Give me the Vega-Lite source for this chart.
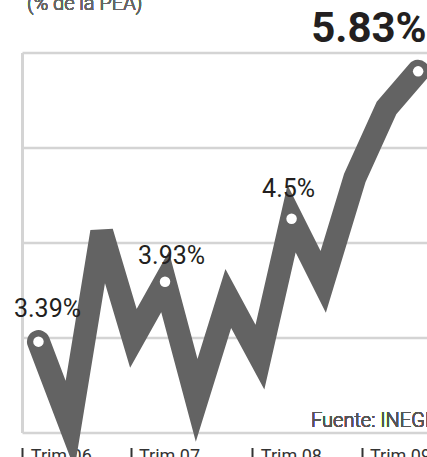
{
  "$schema": "https://vega.github.io/schema/vega-lite/v6.json",
  "autosize": {"type": "none"},
  "padding": {"left": 22, "top": 52.5, "right": 0, "bottom": 24.5},
  "width": 405,
  "height": 380,
  "background": "white",
  "config": {"view": {"stroke": null}},
  "data": {"values": [
    {"i": 0, "v": 3.39, "label": "3.39%"},
    {"i": 1, "v": 2.64},
    {"i": 2, "v": 4.38},
    {"i": 3, "v": 3.42},
    {"i": 4, "v": 3.93, "label": "3.93%"},
    {"i": 5, "v": 2.86},
    {"i": 6, "v": 3.78},
    {"i": 7, "v": 3.25},
    {"i": 8, "v": 4.5, "label": "4.5%"},
    {"i": 9, "v": 3.93},
    {"i": 10, "v": 4.87},
    {"i": 11, "v": 5.5},
    {"i": 12, "v": 5.83, "label": "5.83%"}
  ]},
  "encoding": {
    "x": {"field": "i", "type": "quantitative", "scale": {"domain": [-0.52, 12.28], "nice": false, "zero": false},
      "axis": {"title": null, "domain": false, "grid": false, "values": [-0.51, 2.91, 6.76, 10.21],
        "labelExpr": "datum.value < 0 ? 'Trim 06' : datum.value < 4 ? 'Trim 07' : datum.value < 8 ? 'Trim 08' : 'Trim 09'",
        "offset": 15, "tickSize": 12, "tickWidth": 2, "tickColor": "#333333",
        "labelAlign": "left", "labelOffset": 8, "labelBaseline": "alphabetic", "labelPadding": 1.5,
        "labelFont": "Roboto", "labelFontSize": 18, "labelColor": "#333333", "labelOverlap": false, "labelFlush": false, "labelBound": false}},
    "y": {"field": "v", "type": "quantitative", "scale": {"domain": [2.57, 6.0], "nice": false, "zero": false},
      "axis": {"title": null, "labels": false, "ticks": false, "values": [2.57, 3.4275, 4.285, 5.1425, 6.0],
        "domain": true, "domainColor": "#d4d4d4", "domainWidth": 3,
        "grid": true, "gridColor": "#d4d4d4", "gridWidth": 2.5}}
  },
  "layer": [
    {"mark": {"type": "line", "color": "#636363", "strokeWidth": 23, "strokeCap": "round", "strokeJoin": "miter", "strokeMiterLimit": 4}},
    {"transform": [{"filter": "datum.label != null"}],
     "mark": {"type": "point", "filled": true, "color": "white", "opacity": 1, "size": 110}},
    {"transform": [{"filter": "datum.i == 0"}],
     "mark": {"type": "text", "align": "left", "baseline": "alphabetic", "dx": -24.5, "dy": -24.5, "font": "Roboto", "fontSize": 25, "color": "#231f20"},
     "encoding": {"text": {"field": "label"}}},
    {"transform": [{"filter": "datum.i == 4"}],
     "mark": {"type": "text", "align": "left", "baseline": "alphabetic", "dx": -27, "dy": -18, "font": "Roboto", "fontSize": 25, "color": "#231f20"},
     "encoding": {"text": {"field": "label"}}},
    {"transform": [{"filter": "datum.i == 8"}],
     "mark": {"type": "text", "align": "left", "baseline": "alphabetic", "dx": -29.5, "dy": -22, "font": "Roboto", "fontSize": 25, "color": "#231f20"},
     "encoding": {"text": {"field": "label"}}},
    {"transform": [{"filter": "datum.i == 12"}],
     "mark": {"type": "text", "align": "left", "baseline": "alphabetic", "dx": -107, "dy": -29, "font": "Roboto", "fontWeight": "bold", "fontSize": 42, "color": "#231f20"},
     "encoding": {"text": {"field": "label"}}},
    {"mark": {"type": "text", "align": "right", "baseline": "alphabetic", "dy": -6, "font": "Roboto", "fontWeight": 300, "fontSize": 20, "color": "#555555"},
     "encoding": {"x": {"datum": 12.38, "type": "quantitative"}, "y": {"datum": 2.57, "type": "quantitative"}, "text": {"value": "Fuente: INEGI"}}},
    {"mark": {"type": "text", "align": "left", "baseline": "alphabetic", "font": "Roboto", "fontWeight": 300, "fontSize": 20, "color": "#666666"},
     "encoding": {"x": {"datum": -0.362, "type": "quantitative"}, "y": {"datum": 6.388, "type": "quantitative"}, "text": {"value": "(% de la PEA)"}}}
  ]
}
